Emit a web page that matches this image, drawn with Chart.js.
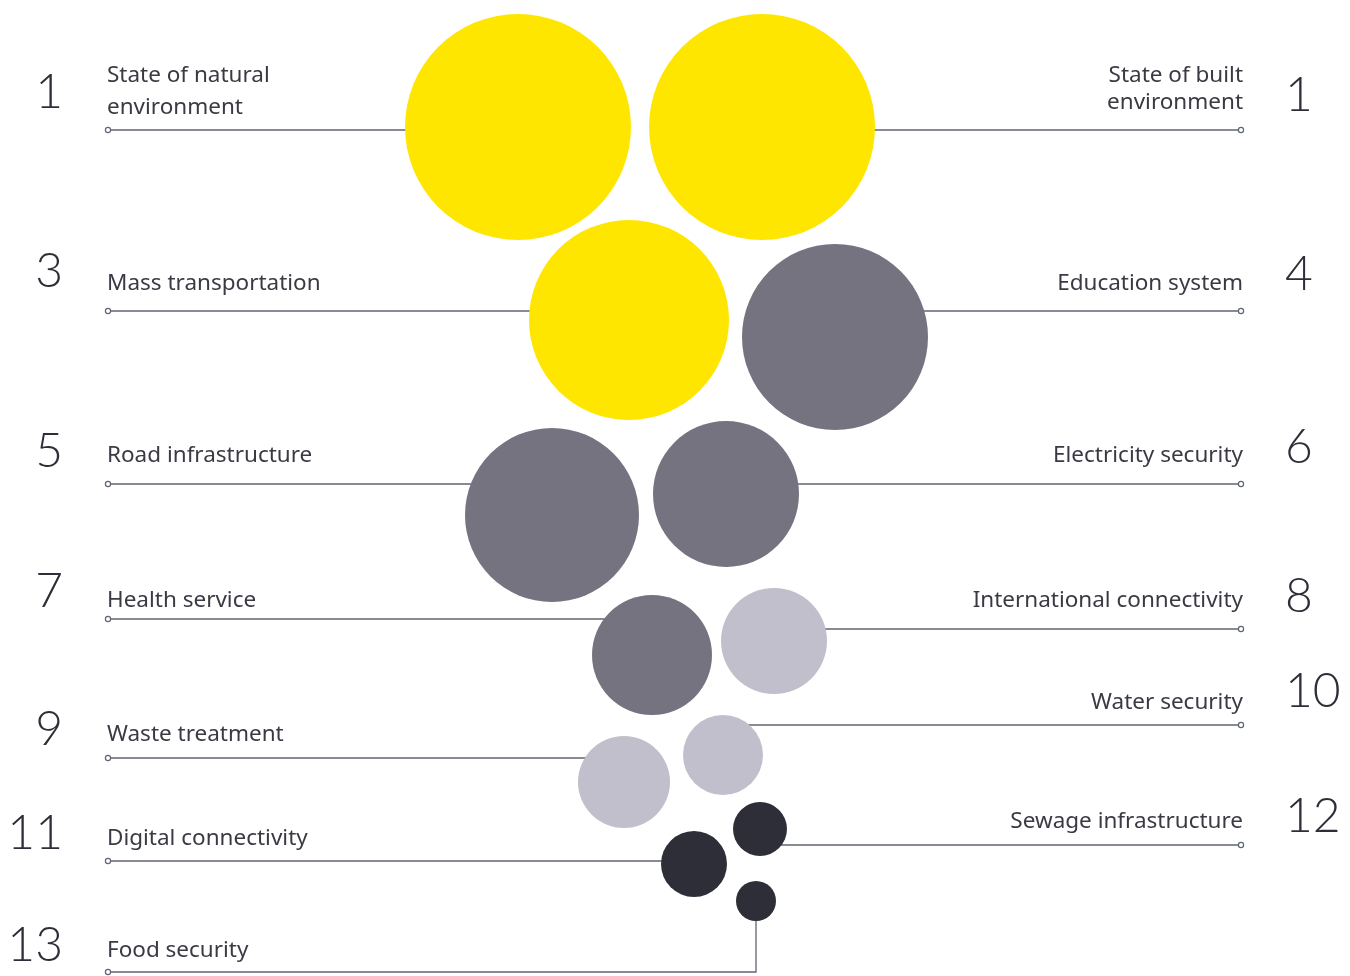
<!DOCTYPE html>
<html>
<head>
<meta charset="utf-8">
<script src="https://cdn.jsdelivr.net/npm/chart.js@4.4.0/dist/chart.umd.min.js"></script>
<style>
body { margin: 0; background: #fff; }
#divCanvas { width: 1350px; height: 976px; }
</style>
</head>
<body>
<div id="divCanvas"><canvas id="graficoRanking"></canvas></div>
<script>
// ranking data
var ranks = [1, 1, 3, 4, 5, 6, 7, 8, 9, 10, 11, 12, 13];
var labels = [
	["State of natural", "environment"],
	["State of built", "environment"],
	["Mass transportation"],
	["Education system"],
	["Road infrastructure"],
	["Electricity security"],
	["Health service"],
	["International connectivity"],
	["Waste treatment"],
	["Water security"],
	["Digital connectivity"],
	["Sewage infrastructure"],
	["Food security"]
];
var sides = ["left", "right", "left", "right", "left", "right", "left", "right", "left", "right", "left", "right", "left"];
var tiers = [1, 1, 1, 2, 2, 2, 2, 3, 3, 3, 4, 4, 4];
var bubbleX = [518, 762, 629, 835, 552, 726, 652, 774, 624, 723, 694, 760, 756];
var bubbleY = [127, 127, 320, 337, 515, 494, 655, 641, 782, 755, 864, 829, 901];
var bubbleR = [113, 113, 100, 93, 87, 73, 60, 53, 46, 40, 33, 27, 20];

var tierColors = { 1: "#ffe600", 2: "#74737f", 3: "#c0bfcb", 4: "#2e2e38" };

// where the texts and leader lines go (y in chart units)
var layout = {
	leftX: 108,
	rightX: 1241,
	numLeftX: 63,
	numRightX: 1285,
	lineY: [130, 130, 311, 311, 484, 484, 619, 629, 758, 725, 861, 845, 972],
	textY: [[76, 108], [76, 103], [284], [284], [456], [456], [601], [601], [735], [703], [839], [822], [951]],
	numY: [93, 96, 272, 275, 452, 448, 592, 597, 730, 692, 834, 817, 946],
	drop: [false, false, false, false, false, false, false, false, false, false, false, false, true]
};

var pontos = [];
var cores = [];
for (var i = 0; i < ranks.length; i++) {
	pontos.push({ x: bubbleX[i], y: bubbleY[i], r: bubbleR[i] });
	cores.push(tierColors[tiers[i]]);
}

var legendas = {
	id: "legendas",
	beforeDatasetsDraw: function (chart) {
		var ctx = chart.ctx;
		var yScale = chart.scales.y;
		var xScale = chart.scales.x;
		var meta = chart.getDatasetMeta(0);
		ctx.save();
		ctx.strokeStyle = "#5f6671";
		ctx.lineWidth = 1.3;
		for (var i = 0; i < ranks.length; i++) {
			var y = yScale.getPixelForValue(layout.lineY[i]);
			var cx = meta.data[i].x;
			var cy = meta.data[i].y;
			ctx.beginPath();
			if (layout.drop[i]) {
				ctx.moveTo(cx, cy);
				ctx.lineTo(cx, y);
				ctx.lineTo(xScale.getPixelForValue(layout.leftX), y);
			} else if (sides[i] == "left") {
				ctx.moveTo(xScale.getPixelForValue(layout.leftX), y);
				ctx.lineTo(cx, y);
			} else {
				ctx.moveTo(cx, y);
				ctx.lineTo(xScale.getPixelForValue(layout.rightX), y);
			}
			ctx.stroke();
		}
		ctx.restore();
	},
	afterDatasetsDraw: function (chart) {
		var ctx = chart.ctx;
		var yScale = chart.scales.y;
		var xScale = chart.scales.x;
		ctx.save();
		for (var i = 0; i < ranks.length; i++) {
			var esquerda = sides[i] == "left";
			var ex = xScale.getPixelForValue(esquerda ? layout.leftX : layout.rightX);
			var y = yScale.getPixelForValue(layout.lineY[i]);
			// little end circle
			ctx.beginPath();
			ctx.arc(ex, y, 2.6, 0, Math.PI * 2);
			ctx.fillStyle = "#fff";
			ctx.fill();
			ctx.strokeStyle = "#5f6671";
			ctx.lineWidth = 1.2;
			ctx.stroke();

			// label
			ctx.fillStyle = "#3a3a44";
			ctx.font = '400 22.5px "Noto Sans", sans-serif';
			ctx.textBaseline = "middle";
			ctx.textAlign = esquerda ? "left" : "right";
			var tx = esquerda ? ex - 1 : ex + 2;
			for (var k = 0; k < labels[i].length; k++) {
				ctx.fillText(labels[i][k], tx, yScale.getPixelForValue(layout.textY[i][k]));
			}

			// rank number
			ctx.fillStyle = "#2e2e38";
			ctx.font = '300 48px "Lato", "Noto Sans", sans-serif';
			ctx.textAlign = esquerda ? "right" : "left";
			var nx = xScale.getPixelForValue(esquerda ? layout.numLeftX : layout.numRightX);
			ctx.fillText(String(ranks[i]), nx, yScale.getPixelForValue(layout.numY[i]));
		}
		ctx.restore();
	}
};

var grafico = new Chart(document.getElementById("graficoRanking"), {
	type: "bubble",
	data: {
		datasets: [{
			data: pontos,
			backgroundColor: cores,
			hoverBackgroundColor: cores,
			borderWidth: 0,
			hoverBorderWidth: 0,
			hoverRadius: 0,
			clip: false
		}]
	},
	options: {
		responsive: true,
		maintainAspectRatio: false,
		animation: false,
		events: [],
		layout: { padding: 0, autoPadding: false },
		plugins: {
			legend: { display: false },
			tooltip: { enabled: false }
		},
		scales: {
			x: { type: "linear", min: 0, max: 1350, display: false },
			y: { type: "linear", min: 0, max: 976, reverse: true, display: false }
		}
	},
	plugins: [legendas]
});
</script>
</body>
</html>
